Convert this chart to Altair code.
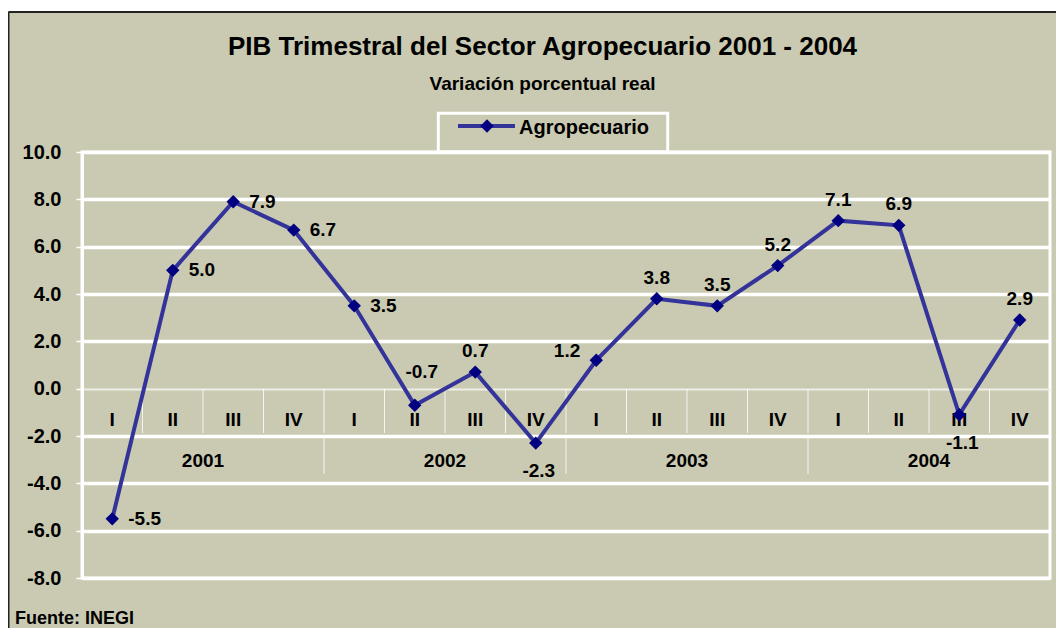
import altair as alt
import pandas as pd

# ---------------- data ----------------
years = ["2001", "2002", "2003", "2004"]
quarters = ["I", "II", "III", "IV"]
values = [-5.5, 5.0, 7.9, 6.7, 3.5, -0.7, 0.7, -2.3, 1.2, 3.8, 3.5, 5.2, 7.1, 6.9, -1.1, 2.9]
label_place = ["right", "right", "right", "right", "right", "high", "above", "below",
               "left", "above", "above", "above", "above", "above", "below", "above"]
y_ticks = [-8.0, -6.0, -4.0, -2.0, 0.0, 2.0, 4.0, 6.0, 8.0, 10.0]
series_name = "Agropecuario"
title_text = "PIB Trimestral del Sector Agropecuario 2001 - 2004"
subtitle_text = "Variación porcentual real"
source_text = "Fuente: INEGI"

# ---------------- styles ----------------
BG = "#CACAB2"
LINE = "#333399"
MARK = "#000080"
FONT = "Liberation Sans"
W, H = 968, 426

rows = []
i = 0
for yr in years:
    for q in quarters:
        rows.append(dict(key=f"{yr} {q}", year=yr, quarter=q,
                         value=values[i], label=f"{values[i]:.1f}",
                         place=label_place[i], idx=i))
        i += 1
df = pd.DataFrame(rows)
keys = list(df["key"])

base = alt.Chart(df)
xscale = alt.Scale(type="band", paddingInner=0, paddingOuter=0, domain=keys)


def xenc(band=0.5):
    return alt.X("key:O", scale=xscale, axis=None, bandPosition=band)


yscale = alt.Scale(domain=[-8, 10], nice=False, zero=False)
yaxis = alt.Axis(
    values=y_ticks, format=".1f", title=None,
    labelExpr="replace(datum.label, '\u2212', '-')",
    labelFont=FONT, labelFontSize=20, labelFontWeight="bold", labelColor="black",
    labelPadding=15, tickColor="white", tickSize=6, tickWidth=1.5,
    domainColor="white", domainWidth=3,
    gridColor={"condition": {"test": "datum.value === 0", "value": "#EEEEE6"}, "value": "white"},
    gridWidth={"condition": {"test": "datum.value === 0", "value": 2}, "value": 3.5},
)

one = pd.DataFrame({"a": [0]})

# outer frame (black top and left border), white strip above
strip = alt.Chart(one).mark_rect(color="white").encode(
    x=alt.value(-80), x2=alt.value(1000), y=alt.value(-150), y2=alt.value(-141))
frame_top = alt.Chart(one).mark_rule(color="#222222", strokeWidth=2).encode(
    x=alt.value(-73.5), x2=alt.value(1000), y=alt.value(-140))
frame_left = alt.Chart(one).mark_rule(color="#222222", strokeWidth=2).encode(
    x=alt.value(-73.5), y=alt.value(-140), y2=alt.value(500))

# legend box
leg_box = alt.Chart(one).mark_rect(fillOpacity=0, stroke="white", strokeWidth=3).encode(
    x=alt.value(356.3), x2=alt.value(585.7), y=alt.value(-38.7), y2=alt.value(0))
leg_line = alt.Chart(one).mark_rule(color=LINE, strokeWidth=4).encode(
    x=alt.value(376), x2=alt.value(433), y=alt.value(-26))
leg_pt = alt.Chart(one).mark_point(shape="diamond", filled=True, size=180, color=MARK, opacity=1).encode(
    x=alt.value(405), y=alt.value(-26))
leg_txt = alt.Chart(one).mark_text(text=series_name, font=FONT, fontSize=20, fontWeight="bold",
                                   align="left", baseline="alphabetic", color="black").encode(
    x=alt.value(437), y=alt.value(-17.7))

# titles
title = alt.Chart(one).mark_text(text=title_text, font=FONT, fontSize=26, fontWeight="bold",
                                 align="center", baseline="alphabetic", color="black").encode(
    x=alt.value(460.5), y=alt.value(-97))
subtitle = alt.Chart(one).mark_text(text=subtitle_text, font=FONT, fontSize=19, fontWeight="bold",
                                    align="center", baseline="alphabetic", color="black").encode(
    x=alt.value(460.5), y=alt.value(-62))
source = alt.Chart(one).mark_text(text=source_text, font=FONT, fontSize=18, fontWeight="bold",
                                  align="left", baseline="alphabetic", color="black").encode(
    x=alt.value(-67), y=alt.value(471.5))

# category separators
q_sep = base.transform_filter("datum.idx > 0").mark_rule(color="white", strokeWidth=1, opacity=0.8).encode(
    x=xenc(0), y=alt.value(237), y2=alt.value(281))
y_sep = base.transform_filter("datum.quarter == 'I' && datum.idx > 0").mark_rule(
    color="white", strokeWidth=1, opacity=0.8).encode(
    x=xenc(0), y=alt.value(285), y2=alt.value(322))

q_lab = base.mark_text(font=FONT, fontSize=19, fontWeight="bold", baseline="alphabetic",
                       color="black").encode(x=xenc(0.5), y=alt.value(273.7), text="quarter:N")
y_lab = base.transform_filter("datum.quarter == 'II'").mark_text(
    font=FONT, fontSize=19, fontWeight="bold", baseline="alphabetic", color="black").encode(
    x=xenc(1), y=alt.value(315.3), text="year:N")

# main series
line = base.mark_line(color=LINE, strokeWidth=4).encode(
    x=xenc(0.5), y=alt.Y("value:Q", scale=yscale, axis=yaxis))
pts = base.mark_point(shape="diamond", filled=True, size=180, color=MARK, opacity=1).encode(
    x=xenc(0.5), y=alt.Y("value:Q", scale=yscale))

place_style = {
    "right": dict(align="left", dx=16, dy=0),
    "above": dict(align="center", dx=0, dy=-21),
    "high": dict(align="center", dx=7, dy=-33),
    "below": dict(align="center", dx=3, dy=28),
    "left": dict(align="right", dx=-16, dy=-9),
}
labels = []
for p, st in place_style.items():
    labels.append(
        base.transform_filter(f"datum.place == '{p}'").mark_text(
            font=FONT, fontSize=19, fontWeight="bold", baseline="middle", color="black", **st
        ).encode(x=xenc(0.5), y=alt.Y("value:Q", scale=yscale), text="label:N")
    )

chart = alt.layer(
    strip, frame_top, frame_left, leg_box, leg_line, leg_pt, leg_txt, title, subtitle, source,
    q_sep, y_sep, q_lab, y_lab, line, pts, *labels
).properties(
    width=W, height=H,
    autosize=alt.AutoSizeParams(type="none"),
    padding={"left": 74, "top": 144, "right": 6, "bottom": 50},
).configure(background=BG, font=FONT).configure_view(
    fill=BG, stroke="white", strokeWidth=3
)

chart.save("out.html", embed_options={"renderer": "svg", "actions": False})
